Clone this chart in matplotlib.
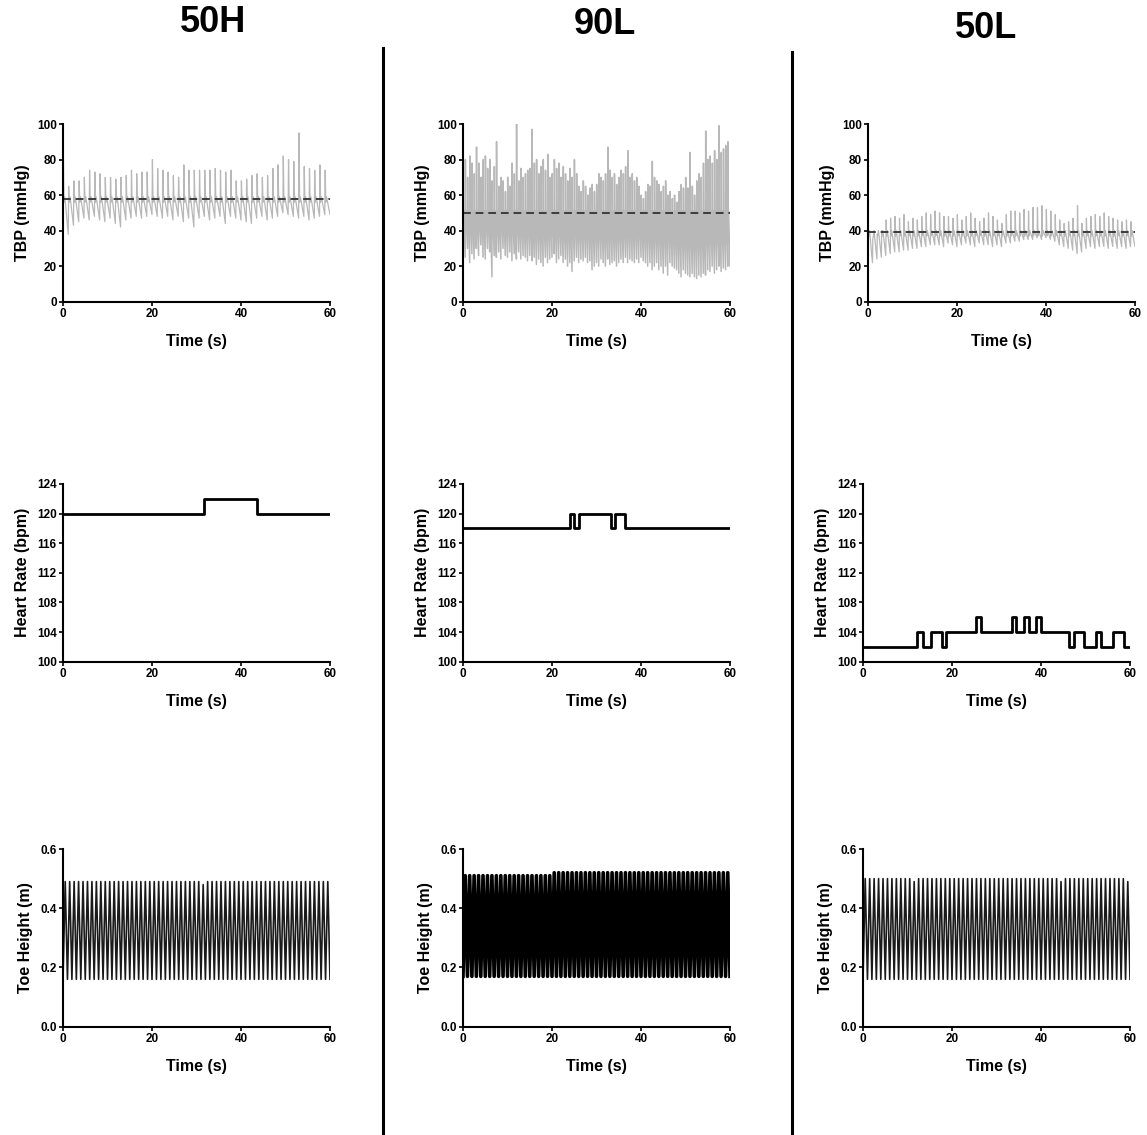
import numpy as np
import matplotlib
matplotlib.use("Agg")
import matplotlib.pyplot as plt
from matplotlib.lines import Line2D

plt.rcParams["font.family"] = ["Liberation Sans", "DejaVu Sans"]

conditions = ["50H", "90L", "50L"]

# ---- TBP: systolic / diastolic per beat (mmHg) ----
tbp_sys_50H = [80, 65, 68, 68, 70, 74, 73, 72, 70, 70, 69, 70, 71, 74, 72, 73, 73,
               80, 75, 74, 73, 71, 70, 77, 74, 74, 74, 74, 74, 75, 74, 73, 74, 68,
               68, 69, 71, 72, 70, 71, 75, 77, 82, 80, 79, 95, 76, 75, 74, 77, 74]
tbp_dia_50H = [40, 38, 43, 45, 47, 46, 48, 46, 45, 47, 44, 42, 46, 47, 48, 47, 48,
               49, 48, 47, 48, 46, 48, 45, 47, 42, 47, 48, 46, 47, 48, 44, 48, 47,
               46, 45, 44, 47, 48, 46, 47, 48, 50, 49, 48, 47, 48, 46, 47, 48, 49]
tbp_sys_90L = [75, 80, 70, 82, 78, 72, 87, 78, 70, 80,
               82, 75, 80, 68, 76, 90, 65, 70, 68, 62,
               70, 65, 78, 72, 100, 68, 75, 70, 72, 74,
               75, 97, 78, 80, 72, 76, 80, 74, 83, 70,
               72, 80, 75, 78, 70, 76, 72, 68, 75, 70,
               80, 72, 65, 62, 68, 65, 60, 64, 66, 62,
               66, 72, 70, 68, 72, 87, 74, 70, 72, 66,
               70, 74, 72, 76, 85, 70, 72, 68, 70, 65,
               60, 58, 62, 66, 65, 79, 70, 68, 66, 62,
               65, 68, 60, 62, 58, 60, 56, 62, 66, 64,
               70, 64, 84, 65, 60, 68, 72, 70, 78, 96,
               80, 82, 78, 85, 80, 99, 84, 86, 88, 90]
tbp_dia_90L = [28, 25, 30, 22, 27, 24, 30, 26, 32, 25,
               24, 30, 28, 14, 26, 25, 28, 24, 30, 26,
               25, 28, 23, 27, 24, 28, 24, 26, 25, 23,
               26, 23, 25, 21, 24, 22, 20, 25, 22, 24,
               25, 27, 22, 24, 26, 22, 24, 20, 22, 17,
               23, 25, 22, 24, 23, 25, 22, 23, 18, 20,
               22, 20, 24, 22, 20, 24, 21, 22, 23, 20,
               22, 24, 22, 25, 22, 24, 23, 22, 24, 22,
               25, 23, 22, 20, 22, 18, 20, 22, 18, 20,
               16, 20, 15, 22, 20, 19, 18, 16, 14, 18,
               16, 15, 14, 16, 14, 13, 15, 14, 16, 15,
               18, 17, 20, 16, 18, 20, 17, 19, 18, 20]
tbp_sys_50L = [38, 35, 38, 40, 46, 47, 48, 47, 49, 45, 47, 46, 48, 50, 49, 51, 50,
               48, 48, 47, 49, 46, 48, 50, 47, 45, 47, 50, 48, 46, 44, 49, 51, 51,
               50, 52, 51, 53, 53, 54, 52, 51, 49, 46, 44, 45, 47, 54, 44, 47, 48,
               49, 48, 50, 48, 47, 46, 45, 46, 45]
tbp_dia_50L = [20, 22, 24, 25, 26, 27, 28, 28, 29, 29, 30, 30, 31, 31, 32, 32, 32,
               31, 33, 32, 31, 32, 33, 32, 31, 33, 32, 32, 31, 32, 31, 33, 33, 34,
               34, 35, 35, 35, 36, 35, 36, 35, 34, 32, 31, 30, 29, 27, 28, 30, 31,
               30, 31, 31, 30, 31, 30, 31, 30, 31]
tbp_notch = {"50H": 56, "90L": 48, "50L": 37}
tbp_mean = {"50H": 58, "90L": 50, "50L": 39}

# ---- Heart rate steps (s, bpm) ----
hr_t_50H = [0, 31.7, 43.7, 60]
hr_v_50H = [120, 122, 120, 120]
hr_t_90L = [0, 24, 24.9, 26.1, 33.2, 34.1, 36.4, 60]
hr_v_90L = [118, 120, 118, 120, 118, 120, 118, 118]
hr_t_50L = [0, 12.2, 13.4, 15.2, 17.7, 18.6, 25.3, 26.5, 33.4, 34.4, 36.2, 37.3,
            38.9, 40, 46.3, 47.4, 49.6, 52.3, 53.4, 56.2, 58.6, 60]
hr_v_50L = [102, 104, 102, 104, 102, 104, 106, 104, 106, 104, 106, 104, 106, 104,
            102, 104, 102, 104, 102, 104, 102, 102]

# ---- Toe height: peak per stride (m) and trough ----
toe_peak_50H = [0.49, 0.49, 0.49, 0.49, 0.49, 0.49, 0.49, 0.49, 0.49, 0.49,
                0.49, 0.49, 0.49, 0.49, 0.49, 0.49, 0.49, 0.49, 0.49, 0.49,
                0.49, 0.49, 0.49, 0.49, 0.49, 0.49, 0.49, 0.49, 0.49, 0.49,
                0.49, 0.48, 0.49, 0.49, 0.49, 0.49, 0.49, 0.49, 0.49, 0.49,
                0.49, 0.49, 0.49, 0.49, 0.49, 0.49, 0.49, 0.49, 0.49, 0.49,
                0.49, 0.49, 0.49, 0.49, 0.49, 0.49, 0.49, 0.49, 0.49, 0.49]
toe_peak_90L = [0.51, 0.51, 0.51, 0.51, 0.51, 0.51, 0.51, 0.51, 0.51, 0.51,
                0.51, 0.51, 0.51, 0.51, 0.51, 0.51, 0.51, 0.51, 0.51, 0.51,
                0.52, 0.52, 0.52, 0.52, 0.52, 0.52, 0.52, 0.52, 0.52, 0.52,
                0.52, 0.52, 0.52, 0.52, 0.52, 0.52, 0.52, 0.52, 0.52, 0.52,
                0.52, 0.52, 0.52, 0.52, 0.52, 0.52, 0.52, 0.52, 0.52, 0.52,
                0.52, 0.52, 0.52, 0.52, 0.52, 0.52, 0.52, 0.52, 0.52, 0.52]
toe_peak_50L = [0.50, 0.50, 0.50, 0.50, 0.50, 0.50, 0.50, 0.50, 0.50, 0.50,
                0.50, 0.49, 0.50, 0.50, 0.50, 0.50, 0.50, 0.50, 0.50, 0.50,
                0.50, 0.50, 0.50, 0.50, 0.50, 0.50, 0.50, 0.50, 0.50, 0.50,
                0.50, 0.50, 0.50, 0.50, 0.50, 0.50, 0.50, 0.50, 0.50, 0.50,
                0.50, 0.50, 0.50, 0.50, 0.49, 0.50, 0.50, 0.50, 0.50, 0.50,
                0.50, 0.50, 0.50, 0.50, 0.50, 0.50, 0.50, 0.50, 0.50, 0.49]
toe_trough = {"50H": 0.16, "90L": 0.17, "50L": 0.16}

tbp_sys = {"50H": tbp_sys_50H, "90L": tbp_sys_90L, "50L": tbp_sys_50L}
tbp_dia = {"50H": tbp_dia_50H, "90L": tbp_dia_90L, "50L": tbp_dia_50L}
hr_t = {"50H": hr_t_50H, "90L": hr_t_90L, "50L": hr_t_50L}
hr_v = {"50H": hr_v_50H, "90L": hr_v_90L, "50L": hr_v_50L}
toe_peak = {"50H": toe_peak_50H, "90L": toe_peak_90L, "50L": toe_peak_50L}


def style_axes(ax, ylim, yticks, ylabel, fmt):
    for s in ["top", "right"]:
        ax.spines[s].set_visible(False)
    for s in ["left", "bottom"]:
        ax.spines[s].set_linewidth(1.5)
    ax.set_xlim(0, 60)
    ax.set_ylim(*ylim)
    ax.set_xticks([0, 20, 40, 60])
    ax.set_yticks(yticks)
    ax.set_yticklabels([fmt.format(v) for v in yticks])
    ax.tick_params(direction="out", length=3, width=1.2, labelsize=8.5, pad=1.5)
    for lab in ax.get_xticklabels() + ax.get_yticklabels():
        lab.set_fontweight("bold")
    ax.set_xlabel("Time (s)", fontsize=11.5, fontweight="bold", labelpad=10)
    ax.set_ylabel(ylabel, fontsize=11.5, fontweight="bold", labelpad=5)


def beat_wave(sys, dia, notch):
    # one beat: diastolic -> quick systolic upstroke -> notch -> small bump -> decay
    n = len(sys)
    edges = np.linspace(0, 60, n + 1)
    t, y = [], []
    for i in range(n):
        w = edges[i + 1] - edges[i]
        t += [edges[i], edges[i] + 0.08 * w, edges[i] + 0.2 * w, edges[i] + 0.35 * w]
        y += [dia[i], sys[i], notch, notch + 3]
    t.append(60)
    y.append(dia[-1])
    return np.array(t), np.array(y)


def toe_wave(peaks, trough):
    n = len(peaks)
    edges = np.linspace(0, 60, n + 1)
    t, y = [], []
    for i in range(n):
        w = edges[i + 1] - edges[i]
        t += [edges[i], edges[i] + 0.5 * w]
        y += [trough, peaks[i]]
    t.append(60)
    y.append(trough)
    return np.array(t), np.array(y)


fig = plt.figure(figsize=(11.47, 11.35), dpi=100)
W, H = 1147.0, 1135.0

col_left = {
    0: [63, 463, 868],
    1: [63, 463, 863],
    2: [63, 463, 863],
}
row_top = [124, 484, 849]
ax_w, ax_h = 267, 177.7

title_pos = {"50H": (213, 22), "90L": (605, 25), "50L": (986, 28)}

for j, c in enumerate(conditions):
    # TBP
    x0 = col_left[0][j]
    ax = fig.add_axes([x0 / W, 1 - (row_top[0] + ax_h) / H, ax_w / W, ax_h / H])
    t, y = beat_wave(tbp_sys[c], tbp_dia[c], tbp_notch[c])
    lw = 1.1 if c == "90L" else 0.9
    ax.plot(t, y, color="#b8b8b8", lw=lw)
    ax.axhline(tbp_mean[c], color="#3c3c3c", lw=1.4, dashes=(4, 2.5))
    style_axes(ax, (0, 100), [0, 20, 40, 60, 80, 100], "TBP (mmHg)", "{:d}")

    # Heart rate
    x0 = col_left[1][j]
    ax = fig.add_axes([x0 / W, 1 - (row_top[1] + ax_h) / H, ax_w / W, ax_h / H])
    ax.plot(hr_t[c], hr_v[c], drawstyle="steps-post", color="black", lw=2.0)
    style_axes(ax, (100, 124), [100, 104, 108, 112, 116, 120, 124],
               "Heart Rate (bpm)", "{:d}")

    # Toe height
    x0 = col_left[2][j]
    ax = fig.add_axes([x0 / W, 1 - (row_top[2] + ax_h) / H, ax_w / W, ax_h / H])
    t, y = toe_wave(toe_peak[c], toe_trough[c])
    if c == "90L":
        ax.plot(t, y, color="black", lw=2.6)
    else:
        ax.plot(t, y, color="#1a1a1a", lw=1.2)
    style_axes(ax, (0, 0.6), [0.0, 0.2, 0.4, 0.6], "Toe Height (m)", "{:.1f}")

    tx, ty = title_pos[c]
    fig.text(tx / W, 1 - ty / H, c, ha="center", va="center",
             fontsize=26, fontweight="bold")

# separators between conditions
fig.add_artist(Line2D([383 / W, 383 / W], [0, 1 - 48 / H], color="black", lw=2.2))
fig.add_artist(Line2D([792 / W, 792 / W], [0, 1 - 52 / H], color="black", lw=2.2))

fig.savefig("out.png", dpi=100, facecolor="white")
